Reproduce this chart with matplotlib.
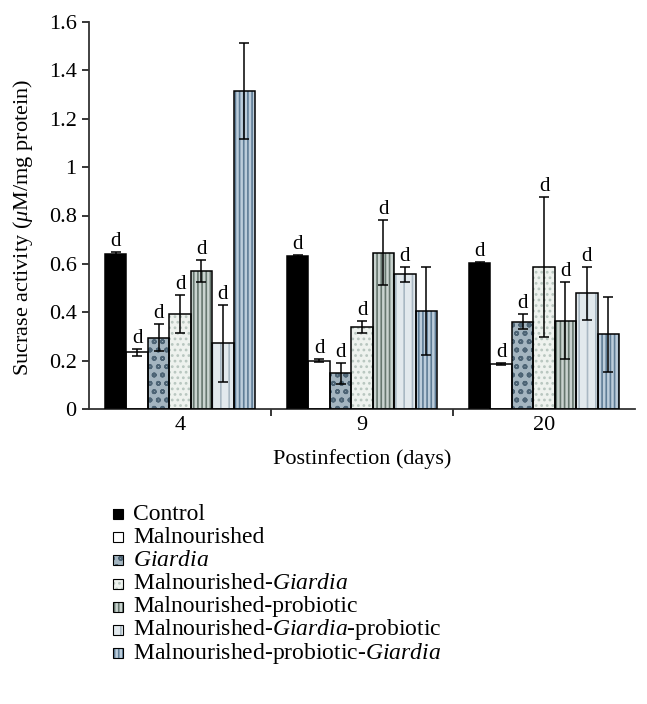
import matplotlib
matplotlib.use("Agg")
import matplotlib.pyplot as plt
import numpy as np
from matplotlib.patches import Rectangle

plt.rcParams['font.family'] = ['Liberation Serif', 'DejaVu Serif']
plt.rcParams['mathtext.fontset'] = 'custom'
plt.rcParams['mathtext.rm'] = 'Liberation Serif'
plt.rcParams['mathtext.it'] = 'Liberation Serif:italic'
plt.rcParams['hatch.linewidth'] = 1.2

days = ['4', '9', '20']
groups = ['Control', 'Malnourished', '$\\it{Giardia}$', 'Malnourished-$\\it{Giardia}$',
          'Malnourished-probiotic', 'Malnourished-$\\it{Giardia}$-probiotic',
          'Malnourished-probiotic-$\\it{Giardia}$']

control = [0.64, 0.632, 0.605]
malnourished = [0.235, 0.200, 0.187]
giardia = [0.295, 0.147, 0.361]
mal_giardia = [0.393, 0.338, 0.586]
mal_probiotic = [0.571, 0.646, 0.365]
mal_giardia_probiotic = [0.272, 0.557, 0.478]
mal_probiotic_giardia = [1.315, 0.406, 0.310]

err_control = [0.010, 0.004, 0.004]
err_malnourished = [0.015, 0.005, 0.005]
err_giardia = [0.055, 0.045, 0.032]
err_mal_giardia = [0.078, 0.025, 0.290]
err_mal_probiotic = [0.047, 0.135, 0.160]
err_mal_giardia_probiotic = [0.160, 0.030, 0.110]
err_mal_probiotic_giardia = [0.198, 0.182, 0.155]

values = [control, malnourished, giardia, mal_giardia, mal_probiotic,
          mal_giardia_probiotic, mal_probiotic_giardia]
errors = [err_control, err_malnourished, err_giardia, err_mal_giardia,
          err_mal_probiotic, err_mal_giardia_probiotic, err_mal_probiotic_giardia]

# significance letters ('' = none)
letters = [['d', 'd', 'd'], ['d', 'd', 'd'], ['d', 'd', 'd'], ['d', 'd', 'd'],
           ['d', 'd', 'd'], ['d', 'd', 'd'], ['', '', '']]

styles = [
    dict(face='#000000', hatch=None, hc='#000000'),
    dict(face='#ffffff', hatch=None, hc='#ffffff'),
    dict(face='#a4b5c0', hatch='oo', hc='#4d6475'),
    dict(face='#eef2ee', hatch='...', hc='#b8c6bf'),
    dict(face='#c9d3cf', hatch='||||', hc='#66776f'),
    dict(face='#e2e9ed', hatch='||', hc='#a9b8c3'),
    dict(face='#bccddb', hatch='||||', hc='#5f7d96'),
]

W, H = 647, 704
fig = plt.figure(figsize=(W / 100, H / 100), dpi=100)
ax = fig.add_axes([89 / W, 1 - 409 / H, (635 - 89) / W, (409 - 22) / H])

x = np.arange(len(days))
w = 0.118
fs = 16

for i, (vals, errs, st) in enumerate(zip(values, errors, styles)):
    pos = x + (i - 3) * w
    ax.bar(pos, vals, w, color=st['face'], edgecolor=st['hc'], hatch=st['hatch'],
           linewidth=0, zorder=2)
    ax.bar(pos, vals, w, fill=False, edgecolor='black', linewidth=1.1, zorder=3)
    ax.errorbar(pos, vals, yerr=errs, fmt='none', ecolor='black', elinewidth=1.1,
                capsize=3.8, capthick=1.1, zorder=4)
    for p, v, e, l in zip(pos, vals, errs, letters[i]):
        if l:
            ax.text(p, v + e + 0.004, l, ha='center', va='bottom', fontsize=15)

ax.set_xlim(-0.5, 2.5)
ax.set_ylim(0, 1.6)
ax.set_yticks([0, 0.2, 0.4, 0.6, 0.8, 1.0, 1.2, 1.4, 1.6])
ax.set_yticklabels(['0', '0.2', '0.4', '0.6', '0.8', '1', '1.2', '1.4', '1.6'])
ax.set_xticks(x)
ax.set_xticklabels(days)
ax.set_xticks([0.5, 1.5], minor=True)
ax.tick_params(axis='x', which='major', length=0, pad=5, labelsize=fs)
ax.tick_params(axis='x', which='minor', length=5, width=1.1, direction='out')
ax.tick_params(axis='y', length=5, width=1.1, labelsize=fs, pad=4)
for s in ['top', 'right']:
    ax.spines[s].set_visible(False)
for s in ['left', 'bottom']:
    ax.spines[s].set_linewidth(1.3)
    ax.spines[s].set_color('#333333')

ax.set_xlabel('Postinfection (days)', fontsize=fs, labelpad=10)
ax.set_ylabel('Sucrase activity ($\\mu$M/mg protein)', fontsize=16)
ax.yaxis.set_label_coords(-0.098, 0.47)

# manual legend (consistent row spacing)
row0, step = 514, 23.2
for i, (lab, st) in enumerate(zip(groups, styles)):
    yc = row0 + i * step
    fig.patches.append(Rectangle((113 / W, 1 - (yc + 5) / H), 10 / W, 10 / H,
                                 transform=fig.transFigure, facecolor=st['face'],
                                 edgecolor=st['hc'], hatch=st['hatch'], linewidth=0))
    fig.patches.append(Rectangle((113 / W, 1 - (yc + 5) / H), 10 / W, 10 / H,
                                 transform=fig.transFigure, fill=False,
                                 edgecolor='black', linewidth=0.8))
    fig.text(133 / W, 1 - (yc + 5.5) / H, lab, fontsize=17, ha='left', va='baseline')

fig.savefig('out.png', dpi=100)
